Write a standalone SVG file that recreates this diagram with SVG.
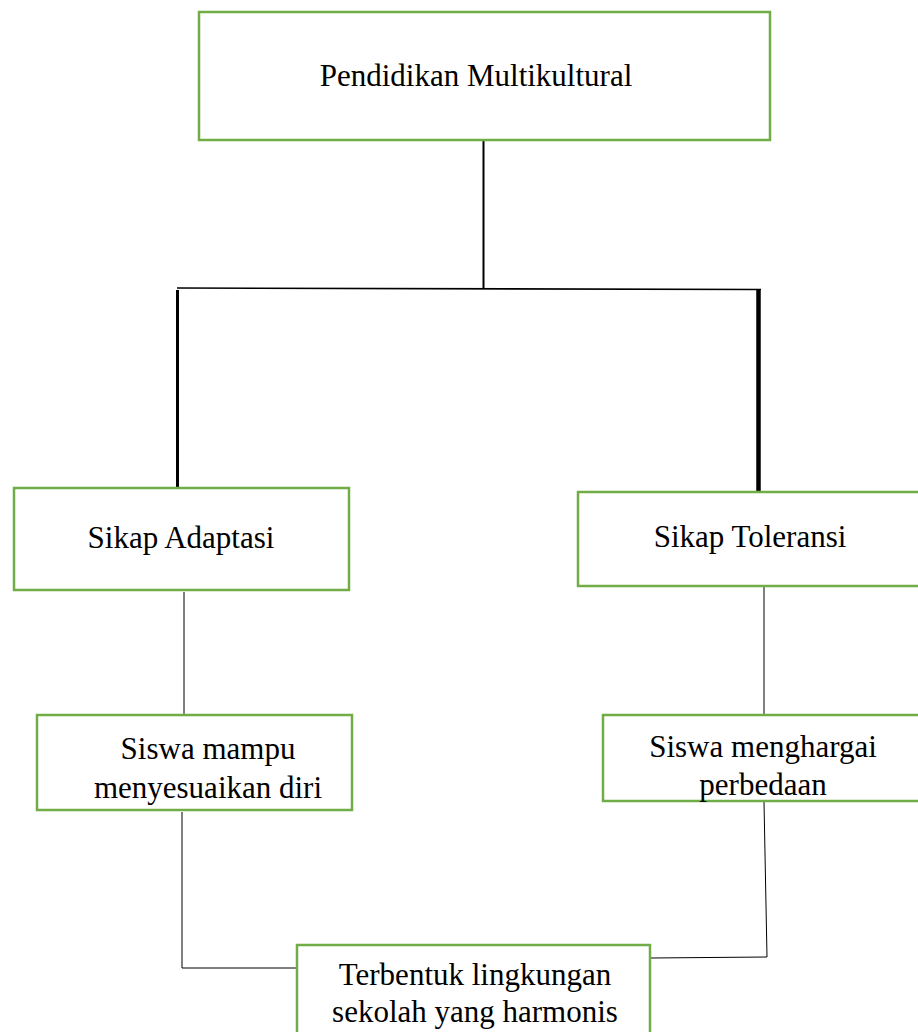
<svg xmlns="http://www.w3.org/2000/svg" width="918" height="1032" viewBox="0 0 918 1032">
<style>
.box{fill:#fff;stroke:#70AD47;stroke-width:2.5}
.t{font-family:"Liberation Serif","Times New Roman",serif;font-size:31px;fill:#000;text-anchor:middle}
.c{fill:none;stroke:#000}
</style>
<rect width="918" height="1032" fill="#fff"/>
<g id="connectors">
<line class="c" x1="483.5" y1="141" x2="483.5" y2="288" stroke-width="2"/>
<line class="c" x1="177" y1="288" x2="761" y2="289.5" stroke-width="1.6"/>
<line class="c" x1="177.5" y1="290" x2="177.5" y2="487" stroke-width="3"/>
<line class="c" x1="758.5" y1="290" x2="758.5" y2="491" stroke-width="4.5"/>
<line class="c" x1="184" y1="592" x2="184" y2="714" stroke-width="1"/>
<line class="c" x1="764" y1="587" x2="764" y2="715" stroke-width="1"/>
<polyline class="c" points="182,812 182,968 297,968" stroke-width="1"/>
<polyline class="c" points="764,802 767,957 651,958" stroke-width="1"/>
</g>
<g id="n1">
<rect class="box" x="199" y="12" width="571" height="128"/>
<text class="t" x="476" y="86">Pendidikan Multikultural</text>
</g>
<g id="n2">
<rect class="box" x="14" y="488" width="335" height="102"/>
<text class="t" x="181" y="548">Sikap Adaptasi</text>
</g>
<g id="n3">
<rect class="box" x="578" y="492" width="345" height="94"/>
<text class="t" x="750" y="547">Sikap Toleransi</text>
</g>
<g id="n4">
<rect class="box" x="37" y="715" width="315" height="95"/>
<text class="t" x="208" y="759">Siswa mampu</text>
<text class="t" x="208" y="798">menyesuaikan diri</text>
</g>
<g id="n5">
<rect class="box" x="603" y="715" width="320" height="86"/>
<text class="t" x="763" y="757">Siswa menghargai</text>
<text class="t" x="763" y="795">perbedaan</text>
</g>
<g id="n6">
<rect class="box" x="297" y="945" width="353" height="95"/>
<text class="t" x="475" y="985">Terbentuk lingkungan</text>
<text class="t" x="475" y="1022">sekolah yang harmonis</text>
</g>
</svg>
